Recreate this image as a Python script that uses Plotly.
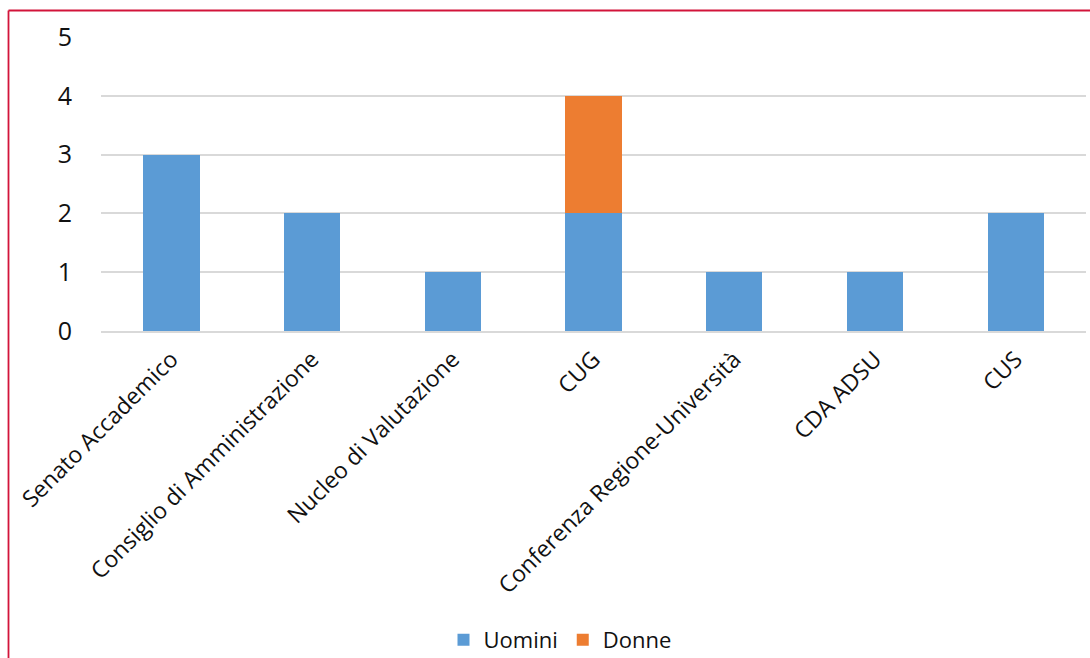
import plotly.graph_objects as go

categories = [
    "Senato Accademico",
    "Consiglio di Amministrazione",
    "Nucleo di Valutazione",
    "CUG",
    "Conferenza Regione-Università",
    "CDA ADSU",
    "CUS",
]
uomini = [3, 2, 1, 2, 1, 1, 2]
donne = [0, 0, 0, 2, 0, 0, 0]
y_ticks = [0, 1, 2, 3, 4, 5]

BLUE = "#5B9BD5"
ORANGE = "#ED7D31"
BORDER = "#D2143A"
FONT = "Open Sans, Lato, sans-serif"

fig = go.Figure()
fig.add_trace(go.Bar(name="Uomini", x=categories, y=uomini, marker=dict(color=BLUE, line_width=0)))
fig.add_trace(go.Bar(name="Donne", x=categories, y=donne, marker=dict(color=ORANGE, line_width=0)))

W, H = 1090, 658
ml, mr, mt, mb = 101, 4, 37, 327
pw, ph = W - ml - mr, H - mt - mb

def px_x(px):
    return (px - ml) / pw

def px_y(py):
    return (H - mb - py) / ph

fig.update_layout(
    barmode="stack",
    bargap=0.6,
    width=W,
    height=H,
    margin=dict(l=ml, r=mr, t=mt, b=mb, autoexpand=False),
    paper_bgcolor="white",
    plot_bgcolor="white",
    font=dict(family=FONT, size=18, color="#111111"),
    xaxis=dict(
        tickangle=-45,
        tickfont=dict(size=23),
        showgrid=False,
        showline=True,
        linecolor="#D9D9D9",
        linewidth=1.5,
        ticks="",
        automargin=False,
        ticklabelstandoff=4,
    ),
    yaxis=dict(
        range=[0, 5],
        tickvals=y_ticks,
        tickfont=dict(size=25),
        gridcolor="#D9D9D9",
        gridwidth=1.5,
        zeroline=False,
        ticks="",
        ticklabelstandoff=28,
        automargin=False,
    ),
    legend=dict(
        orientation="h",
        x=px_x(560),
        xanchor="center",
        y=px_y(640),
        yanchor="middle",
        font=dict(size=22),
        itemwidth=30,
        traceorder="normal",
    ),
    shapes=[
        dict(type="line", xref="paper", yref="paper",
             x0=px_x(8.5), x1=px_x(W + 2), y0=px_y(10.5), y1=px_y(10.5),
             line=dict(color=BORDER, width=1.8)),
        dict(type="line", xref="paper", yref="paper",
             x0=px_x(8.5), x1=px_x(8.5), y0=px_y(10.5), y1=px_y(H + 2),
             line=dict(color=BORDER, width=1.8)),
    ],
)

fig.write_html("out.html")
